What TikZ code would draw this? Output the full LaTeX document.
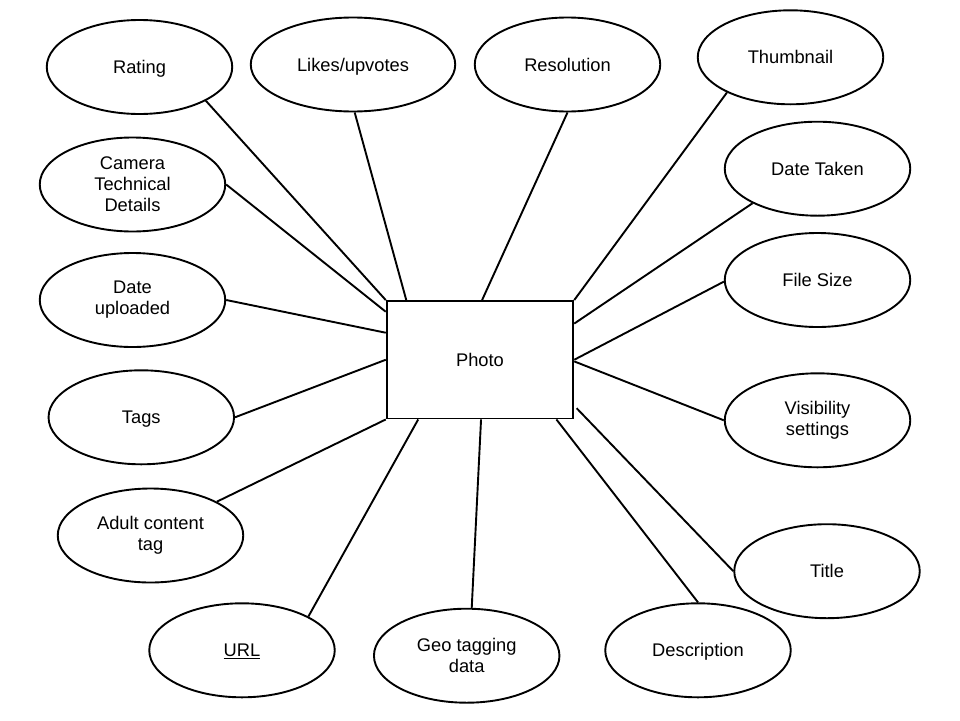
\documentclass[tikz,border=0pt]{standalone}
\usepackage{fontspec}
\setmainfont{Liberation Sans}
\usetikzlibrary{shapes.geometric}
\begin{document}
\begin{tikzpicture}[x=1pt,y=-1pt,
  txt/.style={font=\fontsize{18.3}{21}\selectfont},
  one/.style={text height=13.1pt, text depth=0pt},
  attr/.style={txt, draw, ellipse, line width=1.9pt, minimum width=185.5pt, minimum height=94pt, inner sep=0pt, align=center},
  ent/.style={txt, draw, rectangle, line width=1.9pt, minimum width=186.6pt, minimum height=117.5pt, inner sep=0pt},
  conn/.style={line width=1.9pt}]
\fill[white] (0,0) rectangle (960,720);
\useasboundingbox (0,0) rectangle (960,720);

\node[ent, one] (photo) at (480,359.75) {Photo};

\node[attr, one] (rating) at (139.5,67) {Rating};
\node[attr, one, minimum width=204.5pt] (likes) at (353,64.5) {Likes/upvotes};
\node[attr, one] (resolution) at (567.5,64.5) {Resolution};
\node[attr, one] (thumbnail) at (790.5,57.3) {Thumbnail};
\node[attr] (camera) at (132.5,184.5) {Camera\\Technical\\Details};
\node[attr, one] (datetaken) at (817.5,168.7) {Date Taken};
\node[attr] (dateup) at (132.5,300) {Date\\uploaded};
\node[attr, one] (filesize) at (817.5,280) {File Size};
\node[attr, one] (tags) at (141.3,417.3) {Tags};
\node[attr] (visibility) at (817.5,420.3) {Visibility\\settings};
\node[attr] (adult) at (150.5,535.5) {Adult content\\tag};
\node[attr, one] (title) at (827,571.2) {Title};
\node[attr, one] (url) at (242,650.3) {\underline{URL}};
\node[attr] (geo) at (466.7,655.7) {Geo tagging\\data};
\node[attr, one] (description) at (698,650.3) {Description};

\draw[conn] (rating.-27.3) -- (photo.north west);
\draw[conn] (likes.-88.8) -- (photo.141.9);
\draw[conn] (resolution.-90.2) -- (photo.88.3);
\draw[conn] (thumbnail.-151.6) -- (photo.north east);
\draw[conn] (camera.-0.3) -- (photo.153.1);
\draw[conn] (dateup.-0.6) -- (photo.164);
\draw[conn] (tags.0.3) -- (photo.west);
\draw[conn] (adult.27.2) -- (photo.south west);
\draw[conn] (url.27) -- (photo.-136.9);
\draw[conn] (geo.84.2) -- (photo.-89);
\draw[conn] (description.90.8) -- (photo.-38.4);
\draw[conn, shorten >=3.5pt] (title.180) -- (photo.-26.4);
\draw[conn] (visibility.180) -- (photo.-1.2);
\draw[conn] (filesize.-179.4) -- (photo.0.9);
\draw[conn] (datetaken.-152.6) -- (photo.21.7);
\end{tikzpicture}
\end{document}
